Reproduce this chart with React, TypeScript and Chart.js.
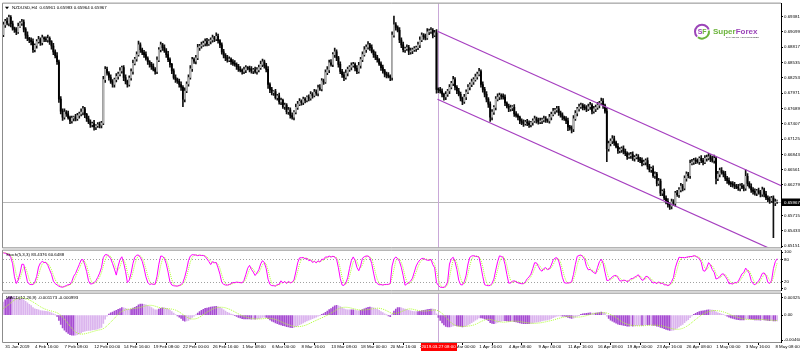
import React, { useEffect, useRef } from 'react';
import { Chart, registerables } from 'chart.js';

Chart.register(...registerables);

const FONT = "'Liberation Sans', Arial, sans-serif";
const FS = 4.4;
const PIP = 0.0001;

// ---------- data (prices in pips, i.e. 6923 = 0.6923) ----------
// bars before the visible window (only used to warm up the indicators)
const priorCloses = [
  6780, 6772, 6768, 6775, 6770, 6778, 6785, 6795, 6805, 6812, 6820, 6818, 6812, 6808, 6805,
  6802, 6806, 6810, 6812, 6815, 6818, 6816, 6820, 6822, 6825, 6828, 6826, 6840, 6870, 6905,
];

const closes = [
  6923, 6930, 6926, 6937, 6925, 6917, 6914, 6910, 6920, 6926, 6928, 6915, 6904, 6898, 6895, 6892, 6877, 6885, 6892, 6896,
  6890, 6899, 6897, 6895, 6898, 6892, 6884, 6873, 6866, 6855, 6786, 6764, 6753, 6762, 6759, 6752, 6746, 6751, 6753, 6750,
  6756, 6759, 6762, 6768, 6758, 6750, 6744, 6739, 6741, 6735, 6737, 6739, 6738, 6742, 6822, 6841, 6834, 6826, 6818, 6813,
  6822, 6828, 6832, 6838, 6844, 6826, 6819, 6813, 6825, 6837, 6852, 6860, 6868, 6886, 6877, 6872, 6868, 6861, 6855, 6850,
  6846, 6841, 6837, 6858, 6877, 6886, 6881, 6875, 6868, 6859, 6850, 6838, 6826, 6822, 6819, 6813, 6808, 6786, 6801, 6814,
  6826, 6842, 6859, 6856, 6862, 6881, 6884, 6886, 6889, 6892, 6888, 6893, 6895, 6899, 6897, 6902, 6894, 6886, 6873, 6867,
  6862, 6858, 6860, 6855, 6852, 6850, 6846, 6841, 6839, 6837, 6840, 6844, 6843, 6841, 6838, 6840, 6837, 6840, 6844, 6850,
  6855, 6848, 6841, 6813, 6803, 6798, 6800, 6789, 6792, 6781, 6784, 6772, 6775, 6763, 6766, 6756, 6753, 6762, 6771, 6777,
  6782, 6780, 6786, 6784, 6790, 6788, 6795, 6793, 6799, 6797, 6807, 6805, 6820, 6818, 6835, 6840, 6853, 6850, 6868, 6873,
  6862, 6850, 6837, 6831, 6826, 6834, 6841, 6845, 6848, 6850, 6843, 6837, 6848, 6859, 6868, 6877, 6882, 6886, 6881, 6874,
  6868, 6863, 6859, 6851, 6844, 6838, 6832, 6830, 6828, 6826, 6904, 6923, 6918, 6913, 6895, 6886, 6877, 6879, 6881, 6873,
  6875, 6877, 6879, 6881, 6886, 6895, 6904, 6901, 6899, 6910, 6911, 6913, 6904, 6908, 6804, 6803, 6801, 6795, 6790, 6795,
  6801, 6808, 6815, 6822, 6808, 6801, 6795, 6788, 6782, 6790, 6799, 6808, 6813, 6818, 6822, 6827, 6832, 6837, 6813, 6804,
  6795, 6786, 6777, 6753, 6762, 6771, 6786, 6790, 6793, 6791, 6790, 6779, 6773, 6768, 6770, 6771, 6759, 6756, 6753, 6746,
  6743, 6741, 6744, 6742, 6739, 6743, 6746, 6750, 6747, 6744, 6746, 6748, 6750, 6748, 6746, 6753, 6758, 6764, 6766, 6768,
  6761, 6757, 6753, 6750, 6746, 6735, 6733, 6731, 6750, 6760, 6768, 6772, 6775, 6771, 6770, 6768, 6772, 6775, 6764, 6768,
  6771, 6775, 6779, 6782, 6774, 6764, 6695, 6704, 6709, 6713, 6706, 6699, 6691, 6693, 6695, 6690, 6686, 6680, 6682, 6684,
  6677, 6679, 6680, 6676, 6673, 6668, 6670, 6673, 6662, 6656, 6658, 6645, 6648, 6631, 6635, 6613, 6616, 6604, 6598, 6592,
  6589, 6597, 6594, 6613, 6610, 6619, 6626, 6622, 6640, 6648, 6645, 6668, 6670, 6673, 6672, 6671, 6677, 6673, 6670, 6677,
  6678, 6680, 6676, 6673, 6677, 6640, 6648, 6655, 6651, 6648, 6640, 6636, 6631, 6630, 6628, 6626, 6624, 6622, 6626, 6624,
  6622, 6644, 6631, 6625, 6619, 6616, 6613, 6617, 6614, 6611, 6619, 6611, 6604, 6601, 6599, 6604, 6595, 6597, 6597,
];

const upWicks = [
  5, 3, 6, 4, 3, 5, 2, 4, 6, 3, 5, 4, 3, 6, 2, 4, 5, 3, 4, 6,
  3, 5, 2, 4, 6, 3, 2, 5, 4, 6, 3, 5, 4, 6, 3, 5, 3, 4, 2, 5,
  4, 3, 6, 5, 3, 2, 5, 4, 3, 6, 2, 4, 5, 3, 6, 5, 4, 3, 5, 4,
  3, 5, 4, 6, 3, 4, 5, 2, 4, 5, 6, 3, 5, 7, 4, 3, 4, 5, 3, 2,
  4, 5, 3, 6, 4, 5, 3, 5, 4, 6, 3, 2, 4, 5, 3, 4, 5, 3, 6, 4,
  5, 6, 4, 3, 5, 6, 3, 5, 4, 5, 6, 3, 4, 5, 3, 6, 4, 2, 4, 5,
  3, 5, 4, 2, 4, 5, 3, 4, 5, 3, 5, 4, 2, 4, 5, 3, 5, 4, 5, 6,
  5, 3, 4, 5, 3, 5, 2, 4, 3, 5, 4, 2, 4, 3, 5, 4, 5, 3, 6, 5,
  5, 3, 4, 3, 2, 4, 5, 3, 5, 4, 5, 6, 4, 3, 5, 6, 5, 6, 4, 7,
  4, 3, 5, 4, 5, 6, 4, 3, 5, 4, 3, 5, 6, 4, 5, 6, 4, 6, 3, 5,
  3, 5, 4, 2, 4, 5, 3, 4, 5, 3, 6, 16, 4, 3, 5, 4, 5, 3, 5, 4,
  5, 3, 4, 3, 5, 6, 4, 3, 5, 6, 4, 5, 3, 5, 6, 3, 5, 4, 2, 5,
  3, 5, 4, 6, 4, 3, 5, 4, 2, 5, 4, 5, 3, 5, 4, 5, 4, 6, 3, 5,
  4, 5, 3, 4, 5, 3, 5, 6, 4, 3, 5, 4, 2, 4, 5, 3, 5, 4, 3, 2,
  4, 5, 3, 5, 4, 2, 4, 5, 3, 4, 5, 3, 5, 4, 2, 5, 4, 5, 3, 5,
  5, 3, 4, 2, 4, 5, 3, 4, 6, 5, 3, 5, 4, 3, 5, 4, 5, 5, 3, 5,
  4, 5, 3, 6, 5, 3, 6, 5, 4, 6, 5, 3, 5, 4, 3, 5, 4, 3, 5, 4,
  5, 3, 5, 4, 3, 5, 4, 3, 5, 4, 3, 5, 4, 3, 5, 4, 3, 5, 4, 5,
  3, 5, 4, 3, 5, 4, 5, 3, 5, 4, 3, 6, 5, 4, 5, 4, 3, 5, 4, 5,
  5, 6, 4, 5, 6, 3, 5, 4, 5, 3, 5, 4, 5, 3, 4, 5, 3, 5, 4, 5,
  4, 12, 5, 3, 5, 4, 5, 3, 5, 4, 5, 3, 5, 4, 5, 3, 4, 5, 3,
];

const downWicks = [
  4, 5, 3, 5, 6, 4, 5, 5, 3, 2, 4, 5, 6, 4, 5, 6, 5, 4, 5, 3,
  5, 4, 5, 3, 4, 5, 6, 5, 4, 5, 6, 5, 6, 4, 5, 3, 5, 4, 5, 4,
  3, 5, 4, 5, 6, 5, 3, 5, 4, 6, 5, 3, 5, 5, 3, 5, 4, 5, 3, 5,
  5, 4, 5, 3, 4, 6, 5, 5, 3, 4, 5, 3, 4, 3, 5, 4, 5, 3, 5, 5,
  5, 3, 5, 4, 3, 4, 5, 3, 5, 4, 5, 5, 3, 5, 4, 5, 6, 14, 5, 3,
  4, 3, 5, 4, 5, 3, 5, 4, 3, 5, 4, 3, 5, 4, 5, 3, 5, 5, 4, 5,
  5, 4, 3, 5, 4, 3, 5, 4, 3, 5, 4, 5, 3, 5, 4, 5, 3, 5, 4, 3,
  4, 5, 5, 7, 5, 4, 5, 3, 5, 4, 5, 3, 5, 4, 5, 5, 4, 5, 3, 4,
  3, 5, 4, 5, 3, 5, 4, 5, 3, 4, 5, 3, 4, 5, 3, 4, 5, 3, 4, 5,
  5, 5, 4, 5, 6, 3, 5, 4, 5, 3, 5, 4, 3, 5, 4, 3, 5, 4, 5, 3,
  5, 4, 5, 3, 5, 4, 5, 5, 3, 6, 5, 4, 5, 3, 5, 5, 4, 5, 3, 5,
  4, 5, 3, 5, 4, 5, 3, 5, 4, 3, 5, 4, 5, 3, 7, 5, 4, 5, 6, 5,
  4, 5, 3, 4, 5, 5, 3, 5, 6, 4, 5, 3, 5, 4, 5, 3, 4, 3, 5, 5,
  5, 5, 6, 8, 5, 4, 5, 3, 5, 5, 4, 5, 3, 5, 4, 5, 5, 3, 5, 5,
  4, 5, 3, 5, 5, 4, 5, 3, 5, 4, 3, 5, 4, 5, 3, 4, 5, 3, 5, 4,
  5, 4, 5, 3, 5, 7, 4, 7, 5, 3, 5, 4, 3, 5, 4, 5, 3, 5, 5, 4,
  5, 4, 5, 3, 5, 4, 24, 5, 4, 5, 5, 3, 5, 4, 5, 5, 4, 5, 3, 5,
  4, 5, 3, 5, 4, 5, 3, 5, 5, 4, 5, 3, 5, 5, 4, 5, 5, 3, 5, 5,
  6, 5, 4, 5, 3, 5, 4, 5, 3, 5, 4, 5, 3, 4, 5, 3, 5, 4, 5, 3,
  5, 4, 5, 3, 5, 10, 4, 5, 3, 5, 4, 5, 3, 5, 4, 5, 3, 4, 5, 3,
  5, 4, 5, 3, 5, 5, 4, 5, 3, 5, 4, 5, 3, 4, 5, 3, 64, 5, 3,
];

const timeLabels = [
  '31 Jan 2019', '4 Feb 16:00', '7 Feb 08:00', '12 Feb 00:00', '14 Feb 16:00', '19 Feb 08:00',
  '22 Feb 00:00', '26 Feb 16:00', '1 Mar 08:00', '6 Mar 00:00', '8 Mar 16:00', '13 Mar 08:00',
  '18 Mar 00:00', '20 Mar 16:00', '25 Mar 08:00', '28 Mar 00:00', '1 Apr 16:00', '4 Apr 08:00',
  '9 Apr 00:00', '11 Apr 16:00', '16 Apr 08:00', '19 Apr 00:00', '23 Apr 16:00', '26 Apr 08:00',
  '1 May 00:00', '3 May 16:00', '8 May 08:00',
];
const barsPerTimeLabel = 16;

const priceTicks = [
  0.69381, 0.69099, 0.68817, 0.68535, 0.68253, 0.67971, 0.67689, 0.67407,
  0.67125, 0.66843, 0.66561, 0.66279, 0.65997, 0.65715, 0.65433, 0.65151,
];
const stochTicks = [100, 80, 20, 0];
const stochLevels = [80, 20];
const macdTicks = [0.003255, 0, -0.004602];
const macdTickLabels = ['0.003255', '0.00', '-0.004602'];

// channel lines: [bar index, price]
const channelUpper = [[234.5, 0.6911], [420.5, 0.6626]];
const channelLower = [[234.5, 0.6786], [420.5, 0.6501]];

const crosshairBar = 235;
const crosshairPrice = 0.65967;
const crosshairTime = '2019.03.27 08:00';

const symbolLegend = 'NZDUSD,H4  0.65961 0.65983 0.65964 0.65967';
const stochLegend = 'Stoch(5,3,3) 83.4376 60.6488';
const macdLegend = 'MACD(12,26,9) -0.001173 -0.000993';

// ---------- derived OHLC ----------
const allCloses = [...priorCloses, ...closes];
const allOpens = allCloses.map((c, i) => (i === 0 ? c : allCloses[i - 1]));
const P = priorCloses.length;
const allHighs = allCloses.map((c, i) => Math.max(allOpens[i], c) + (i >= P ? upWicks[i - P] : 0));
const allLows = allCloses.map((c, i) => Math.min(allOpens[i], c) - (i >= P ? downWicks[i - P] : 0));

const bars = closes.map((c, i) => ({
  o: allOpens[i + P] * PIP,
  h: allHighs[i + P] * PIP,
  l: allLows[i + P] * PIP,
  c: c * PIP,
}));

function stochastic(high: number[], low: number[], close: number[], kP: number, slow: number, dP: number) {
  const n = close.length;
  const num: number[] = new Array(n).fill(NaN);
  const den: number[] = new Array(n).fill(NaN);
  for (let i = kP - 1; i < n; i++) {
    let hh = -Infinity;
    let ll = Infinity;
    for (let j = i - kP + 1; j <= i; j++) {
      hh = Math.max(hh, high[j]);
      ll = Math.min(ll, low[j]);
    }
    num[i] = close[i] - ll;
    den[i] = hh - ll;
  }
  const k: (number | null)[] = new Array(n).fill(null);
  for (let i = kP + slow - 2; i < n; i++) {
    let sn = 0;
    let sd = 0;
    for (let j = i - slow + 1; j <= i; j++) {
      sn += num[j];
      sd += den[j];
    }
    k[i] = sd === 0 ? 100 : (100 * sn) / sd;
  }
  const d: (number | null)[] = new Array(n).fill(null);
  for (let i = kP + slow + dP - 3; i < n; i++) {
    let s = 0;
    for (let j = i - dP + 1; j <= i; j++) s += k[j] as number;
    d[i] = s / dP;
  }
  return { k, d };
}

function ema(values: number[], period: number) {
  const a = 2 / (period + 1);
  const out: number[] = [];
  let prev = values[0];
  values.forEach((v, i) => {
    prev = i === 0 ? v : v * a + prev * (1 - a);
    out.push(prev);
  });
  return out;
}

const closePrices = allCloses.map((c) => c * PIP);
const e12 = ema(closePrices, 12);
const e26 = ema(closePrices, 26);
const macdAll = e12.map((v, i) => v - e26[i]);
const signalAll = macdAll.map((_, i) => {
  if (i < 8) return null;
  let s = 0;
  for (let j = i - 8; j <= i; j++) s += macdAll[j];
  return s / 9;
});
const st = stochastic(allHighs, allLows, allCloses, 5, 3, 3);

const macdMain = macdAll.slice(P);
const macdSignal = signalAll.slice(P);
const stochK = st.k.slice(P);
const stochD = st.d.slice(P);

// ---------- shared scale bits ----------
const X_MIN = -0.2;
const X_MAX = 420.1;
const AXIS_W = 19;
const FRAME = '#8c8c8c';
const CROSS_V = '#c9a8d8';

function xScale(show: boolean) {
  const base: any = {
    type: 'linear',
    min: X_MIN,
    max: X_MAX,
    offset: false,
    display: show,
  };
  if (show) {
    base.afterBuildTicks = (s: any) => {
      s.ticks = timeLabels.map((_, k) => ({ value: k * barsPerTimeLabel }));
    };
    base.afterFit = (s: any) => {
      s.height = 9;
    };
    base.ticks = { display: false };
    base.grid = { drawOnChartArea: false, drawTicks: true, tickLength: 3, color: '#000' };
    base.border = { display: true, color: '#000' };
  }
  return base;
}

function yAxis(min: number, max: number, ticks: number[], label: (v: number, i: number) => string) {
  return {
    type: 'linear',
    position: 'right',
    min,
    max,
    afterBuildTicks: (s: any) => {
      s.ticks = ticks.map((v) => ({ value: v }));
    },
    afterFit: (s: any) => {
      s.width = AXIS_W;
    },
    ticks: {
      autoSkip: false,
      font: { size: FS, family: FONT },
      color: '#000',
      padding: 1,
      callback: (v: any, i: number) => label(Number(v), i),
    },
    grid: { drawOnChartArea: false, drawTicks: true, tickLength: 2, color: '#000' },
    border: { display: true, color: '#000' },
  };
}

function drawFrame(chart: any) {
  const { ctx, chartArea: a } = chart;
  ctx.save();
  ctx.strokeStyle = FRAME;
  ctx.lineWidth = 1;
  ctx.beginPath();
  ctx.moveTo(a.right, a.top - 0.5);
  ctx.lineTo(a.left - 0.5, a.top - 0.5);
  ctx.lineTo(a.left - 0.5, a.bottom + 0.5);
  ctx.lineTo(a.right, a.bottom + 0.5);
  ctx.stroke();
  ctx.restore();
}

function drawVCross(chart: any) {
  const { ctx, chartArea: a, scales } = chart;
  const x = Math.round(scales.x.getPixelForValue(crosshairBar)) + 0.5;
  ctx.save();
  ctx.strokeStyle = CROSS_V;
  ctx.lineWidth = 1;
  ctx.beginPath();
  ctx.moveTo(x, a.top);
  ctx.lineTo(x, a.bottom);
  ctx.stroke();
  ctx.restore();
}

function drawPanelTitle(chart: any, text: string) {
  const { ctx, chartArea: a } = chart;
  ctx.save();
  ctx.font = `${FS}px ${FONT}`;
  ctx.fillStyle = '#000';
  ctx.textBaseline = 'middle';
  ctx.textAlign = 'left';
  ctx.fillText(text, a.left + 3, a.top + 4);
  ctx.restore();
}

const mainDecor = {
  id: 'mainDecor',
  beforeDatasetsDraw(chart: any) {
    const { ctx, chartArea: a, scales } = chart;
    const y = Math.round(scales.y.getPixelForValue(crosshairPrice)) + 0.5;
    ctx.save();
    ctx.strokeStyle = '#b8b8b8';
    ctx.lineWidth = 1;
    ctx.beginPath();
    ctx.moveTo(a.left, y);
    ctx.lineTo(a.right, y);
    ctx.stroke();
    ctx.restore();
    drawVCross(chart);
  },
  afterDraw(chart: any) {
    const { ctx, chartArea: a, scales } = chart;
    drawFrame(chart);
    ctx.save();
    // legend
    ctx.fillStyle = '#000';
    ctx.beginPath();
    ctx.moveTo(a.left + 2, a.top + 3);
    ctx.lineTo(a.left + 6, a.top + 3);
    ctx.lineTo(a.left + 4, a.top + 5.5);
    ctx.closePath();
    ctx.fill();
    ctx.font = `${FS}px ${FONT}`;
    ctx.textBaseline = 'middle';
    ctx.textAlign = 'left';
    ctx.fillText(symbolLegend, a.left + 9, a.top + 4);

    // logo
    const cx = a.right - 79;
    const cy = a.top + 28;
    ctx.lineWidth = 2;
    ctx.strokeStyle = '#9b45b8';
    ctx.beginPath();
    ctx.arc(cx, cy, 7, Math.PI * 0.75, Math.PI * 1.9);
    ctx.stroke();
    ctx.strokeStyle = '#6cb43c';
    ctx.beginPath();
    ctx.arc(cx, cy, 7, Math.PI * 1.95, Math.PI * 0.7);
    ctx.stroke();
    ctx.font = `bold 7px ${FONT}`;
    ctx.textAlign = 'center';
    ctx.fillStyle = '#9b45b8';
    ctx.fillText('S', cx - 2, cy + 0.5);
    ctx.fillStyle = '#6cb43c';
    ctx.fillText('F', cx + 2.5, cy + 0.5);
    ctx.textAlign = 'left';
    ctx.font = `bold 8px ${FONT}`;
    ctx.fillStyle = '#6cb43c';
    ctx.fillText('Super', cx + 11, cy);
    const w = ctx.measureText('Super').width;
    ctx.fillStyle = '#9b45b8';
    ctx.fillText('Forex', cx + 11 + w, cy);
    ctx.font = `2.3px ${FONT}`;
    ctx.fillStyle = '#333';
    ctx.fillText('EXPANDING YOUR BUSINESS', cx + 24, cy + 5.5);

    // crosshair price label
    const y = Math.round(scales.y.getPixelForValue(crosshairPrice));
    ctx.fillStyle = '#000';
    ctx.fillRect(a.right + 1, y - 3.5, AXIS_W, 7.5);
    ctx.fillStyle = '#fff';
    ctx.font = `${FS}px ${FONT}`;
    ctx.textBaseline = 'middle';
    ctx.fillText(crosshairPrice.toFixed(5), a.right + 3, y + 0.3);
    ctx.restore();
  },
};

const stochDecor = {
  id: 'stochDecor',
  beforeDatasetsDraw(chart: any) {
    const { ctx, chartArea: a, scales } = chart;
    ctx.save();
    ctx.strokeStyle = '#a0a0a0';
    ctx.lineWidth = 1;
    ctx.setLineDash([1, 2]);
    stochLevels.forEach((lv) => {
      const y = Math.round(scales.y.getPixelForValue(lv)) + 0.5;
      ctx.beginPath();
      ctx.moveTo(a.left, y);
      ctx.lineTo(a.right, y);
      ctx.stroke();
    });
    ctx.restore();
    drawVCross(chart);
  },
  afterDraw(chart: any) {
    drawFrame(chart);
    drawPanelTitle(chart, stochLegend);
  },
};

const macdDecor = {
  id: 'macdDecor',
  beforeDatasetsDraw(chart: any) {
    drawVCross(chart);
  },
  afterDraw(chart: any) {
    const { ctx, chartArea: a, scales } = chart;
    drawFrame(chart);
    drawPanelTitle(chart, macdLegend);
    ctx.save();
    ctx.font = `${FS}px ${FONT}`;
    ctx.fillStyle = '#000';
    ctx.textBaseline = 'middle';
    ctx.textAlign = 'left';
    timeLabels.forEach((t, k) => {
      const x = scales.x.getPixelForValue(k * barsPerTimeLabel);
      ctx.fillText(t, x + 2, a.bottom + 5);
    });
    const cx = Math.round(scales.x.getPixelForValue(crosshairBar)) + 0.5;
    ctx.fillStyle = '#ff0000';
    ctx.fillRect(cx - 17.5, a.bottom + 1, 36, 8);
    ctx.fillStyle = '#fff';
    ctx.textAlign = 'center';
    ctx.fillText(crosshairTime, cx, a.bottom + 5);
    ctx.restore();
  },
};

export default function App() {
  const mainRef = useRef<HTMLCanvasElement>(null);
  const stochRef = useRef<HTMLCanvasElement>(null);
  const macdRef = useRef<HTMLCanvasElement>(null);

  useEffect(() => {
    document.body.style.margin = '0';
    Chart.defaults.font.family = FONT;
    const common = {
      responsive: false,
      animation: false as const,
      events: [] as any[],
      plugins: { legend: { display: false }, tooltip: { enabled: false } },
    };

    const main = new Chart(mainRef.current as HTMLCanvasElement, {
      type: 'bar',
      data: {
        datasets: [
          {
            type: 'bar',
            data: bars.map((b, i) => ({ x: i, y: [b.l, b.h] })) as any,
            backgroundColor: '#111',
            barThickness: 1,
            grouped: false,
            order: 3,
          },
          {
            type: 'bar',
            data: bars.map((b, i) => ({ x: i, y: [Math.min(b.o, b.c), Math.max(b.o, b.c)] })) as any,
            backgroundColor: bars.map((b) => (b.c >= b.o ? '#b4b4b4' : '#000')),
            barThickness: 1.2,
            minBarLength: 1,
            grouped: false,
            order: 2,
          },
          {
            type: 'line',
            data: channelUpper.map(([x, y]) => ({ x, y })) as any,
            borderColor: '#a63fc0',
            borderWidth: 1.2,
            pointRadius: 0,
            order: 1,
          },
          {
            type: 'line',
            data: channelLower.map(([x, y]) => ({ x, y })) as any,
            borderColor: '#a63fc0',
            borderWidth: 1.2,
            pointRadius: 0,
            order: 1,
          },
        ],
      },
      options: {
        ...common,
        layout: { padding: { left: 3, right: 0, top: 3, bottom: 3 } },
        scales: {
          x: xScale(false),
          y: yAxis(0.6513, 0.6962, priceTicks, (v) => v.toFixed(5)),
        },
      } as any,
      plugins: [mainDecor],
    });

    const stoch = new Chart(stochRef.current as HTMLCanvasElement, {
      type: 'line',
      data: {
        datasets: [
          {
            data: stochK.map((v, i) => ({ x: i, y: v })) as any,
            borderColor: '#ff00ff',
            borderWidth: 1,
            pointRadius: 0,
            order: 1,
          },
          {
            data: stochD.map((v, i) => ({ x: i, y: v })) as any,
            borderColor: '#adff2f',
            borderWidth: 1,
            borderDash: [1, 1],
            pointRadius: 0,
            order: 2,
          },
        ],
      },
      options: {
        ...common,
        layout: { padding: { left: 3, right: 0, top: 3, bottom: 3 } },
        scales: {
          x: xScale(false),
          y: yAxis(-4, 104, stochTicks, (v) => String(v)),
        },
      } as any,
      plugins: [stochDecor],
    });

    const macdColors = macdMain.map((v, i) =>
      i > 0 && Math.abs(v) >= Math.abs(macdMain[i - 1]) ? '#a64bd2' : '#dbb4ee'
    );
    const macd = new Chart(macdRef.current as HTMLCanvasElement, {
      type: 'bar',
      data: {
        datasets: [
          {
            type: 'bar',
            data: macdMain.map((v, i) => ({ x: i, y: v })) as any,
            backgroundColor: macdColors,
            barThickness: 1,
            grouped: false,
            order: 2,
          },
          {
            type: 'line',
            data: macdSignal.map((v, i) => ({ x: i, y: v })) as any,
            borderColor: '#adff2f',
            borderWidth: 1,
            borderDash: [1, 1],
            pointRadius: 0,
            order: 1,
          },
        ],
      },
      options: {
        ...common,
        layout: { padding: { left: 3, right: 0, top: 3, bottom: 0 } },
        scales: {
          x: xScale(true),
          y: yAxis(-0.00497, 0.00399, macdTicks, (_v, i) => macdTickLabels[i]),
        },
      } as any,
      plugins: [macdDecor],
    });

    return () => {
      main.destroy();
      stoch.destroy();
      macd.destroy();
    };
  }, []);

  return (
    <div style={{ position: 'fixed', left: 0, top: 0, width: 800, height: 351, background: '#fff', overflow: 'hidden' }}>
      <canvas ref={mainRef} width={800} height={251} style={{ position: 'absolute', left: 0, top: 0 }} />
      <canvas ref={stochRef} width={800} height={47} style={{ position: 'absolute', left: 0, top: 247 }} />
      <canvas ref={macdRef} width={800} height={61} style={{ position: 'absolute', left: 0, top: 290 }} />
    </div>
  );
}
